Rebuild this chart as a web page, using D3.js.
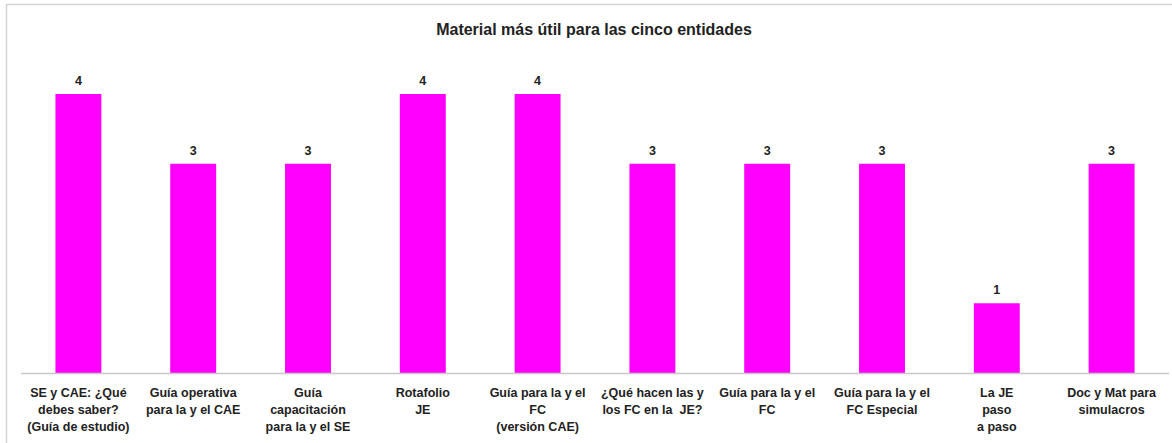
<!DOCTYPE html>
<html>
<head>
<meta charset="utf-8">
<script src="https://cdn.jsdelivr.net/npm/d3@7"></script>
<style>
  body { margin: 0; background: #fff; }
  text { font-family: "Liberation Sans", Arial, sans-serif; font-weight: bold; fill: #222; white-space: pre; }
</style>
</head>
<body>
<div id="chart"></div>
<script>
var categories = [
  ["SE y CAE: ¿Qué", "debes saber?", "(Guía de estudio)"],
  ["Guía operativa", "para la y el CAE"],
  ["Guía", "capacitación", "para la y el SE"],
  ["Rotafolio", "JE"],
  ["Guía para la y el", "FC", "(versión CAE)"],
  ["¿Qué hacen las y", "los FC en la  JE?"],
  ["Guía para la y el", "FC"],
  ["Guía para la y el", "FC Especial"],
  ["La JE", "paso", "a paso"],
  ["Doc y Mat para", "simulacros"]
];
var values = [4, 3, 3, 4, 4, 3, 3, 3, 1, 3];
var title = "Material más útil para las cinco entidades";

var width = 1172;
var height = 443;

var svg = d3.select('#chart')
  .append('svg')
  .attr('width', width)
  .attr('height', height);

// chart frame
svg.append('rect')
  .attr('x', 6.5)
  .attr('y', 4.5)
  .attr('width', width + 10)
  .attr('height', height + 10)
  .attr('fill', 'none')
  .attr('stroke', '#d4d4d4')
  .attr('stroke-width', 1.5);

svg.append('text')
  .attr('x', 594)
  .attr('y', 35)
  .attr('text-anchor', 'middle')
  .style('font-size', '16px')
  .text(title);

var x = d3.scaleBand()
  .domain(d3.range(values.length))
  .range([21, 1169])
  .paddingInner(0.6)
  .paddingOuter(0.3);

var y = d3.scaleLinear()
  .domain([0, 4])
  .range([373, 94]);

svg.selectAll('.bar')
  .data(values)
  .enter()
  .append('rect')
  .attr('class', 'bar')
  .attr('x', function(d, i) { return x(i); })
  .attr('y', function(d) { return y(d); })
  .attr('width', x.bandwidth())
  .attr('height', function(d) { return y(0) - y(d); })
  .attr('fill', '#ff00ff');

svg.selectAll('.val')
  .data(values)
  .enter()
  .append('text')
  .attr('class', 'val')
  .attr('x', function(d, i) { return x(i) + x.bandwidth() / 2; })
  .attr('y', function(d) { return y(d) - 9; })
  .attr('text-anchor', 'middle')
  .style('font-size', '12.5px')
  .text(function(d) { return d; });

// baseline
svg.append('line')
  .attr('x1', 21)
  .attr('x2', 1169)
  .attr('y1', y(0) + 0.5)
  .attr('y2', y(0) + 0.5)
  .attr('stroke', '#c8c8c8')
  .attr('stroke-width', 1.5);

var labels = svg.selectAll('.cat')
  .data(categories)
  .enter()
  .append('text')
  .attr('class', 'cat')
  .attr('text-anchor', 'middle')
  .style('font-size', '12.5px');

labels.selectAll('tspan')
  .data(function(d, i) { return d.map(function(line) { return { line: line, i: i }; }); })
  .enter()
  .append('tspan')
  .attr('x', function(d) { return x(d.i) + x.bandwidth() / 2; })
  .attr('y', function(d, j) { return 397 + j * 17; })
  .text(function(d) { return d.line; });
</script>
</body>
</html>
